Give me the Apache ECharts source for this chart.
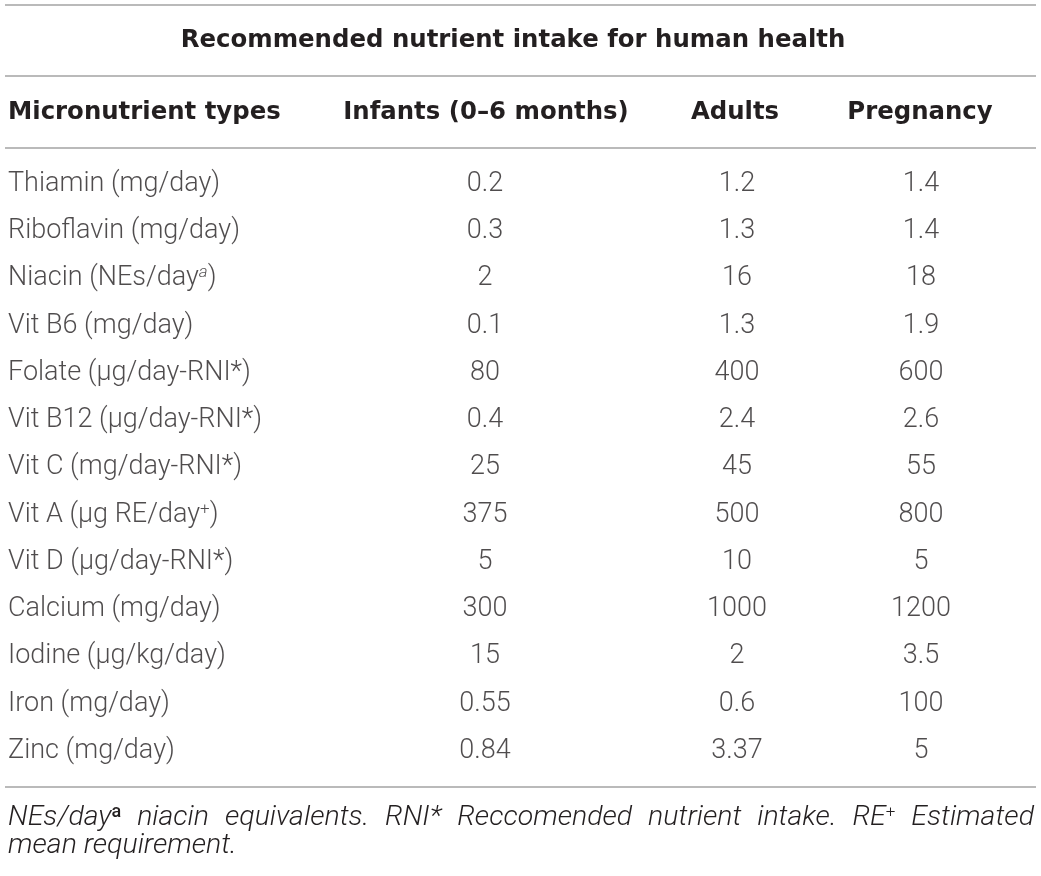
<!DOCTYPE html>
<html>
<head>
<meta charset="utf-8">
<title>Recommended nutrient intake for human health</title>
<script src="https://cdn.jsdelivr.net/npm/echarts@6/dist/echarts.min.js"></script>
<style>
  html, body { margin: 0; padding: 0; background: #ffffff; }
  #chart { width: 1041px; height: 876px; }
</style>
</head>
<body>
<div id="chart"></div>
<script>
// -- Table data --
const title = 'Recommended nutrient intake for human health';
const headers = ['Micronutrient types', 'Infants (0\u20136 months)', 'Adults', 'Pregnancy'];
const nutrients = [
  'Thiamin (mg/day)',
  'Riboflavin (mg/day)',
  'Niacin (NEs/day{supI|a})',
  'Vit B6 (mg/day)',
  'Folate (\u03bcg/day-RNI*)',
  'Vit B12 (\u03bcg/day-RNI*)',
  'Vit C (mg/day-RNI*)',
  'Vit A (\u03bcg RE/day{sup|+})',
  'Vit D (\u03bcg/day-RNI*)',
  'Calcium (mg/day)',
  'Iodine (\u03bcg/kg/day)',
  'Iron (mg/day)',
  'Zinc (mg/day)'
];
const infants = ['0.2', '0.3', '2', '0.1', '80', '0.4', '25', '375', '5', '300', '15', '0.55', '0.84'];
const adults = ['1.2', '1.3', '16', '1.3', '400', '2.4', '45', '500', '10', '1000', '2', '0.6', '3.37'];
const pregnancy = ['1.4', '1.4', '18', '1.9', '600', '2.6', '55', '800', '5', '1200', '3.5', '100', '5'];
// footnote words; line 1 is justified across the page
const footLine1 = ['NEs/day{supA|a}', 'niacin', 'equivalents.', 'RNI*', 'Reccomended', 'nutrient', 'intake.', 'RE{sup|+}', 'Estimated'];
const footLine2 = 'mean requirement.';

// -- Layout (page pixels) --
const W = 1041, H = 876;
const colX = [8, 485, 737, 921];
const headX = [8, 486, 735, 920];
const TEXT = '#231f20';
const RULE = '#a3a3a3';
const FONT = 'Roboto, "Liberation Sans", sans-serif';
const BOLD_FONT = '"DejaVu Sans", "Liberation Sans", sans-serif';
const FOOT_FONT = 'Roboto, "Liberation Sans", sans-serif';
const BODY_SIZE = 27;
const FOOT_SIZE = 28.5;
const bodyStyle = { fontFamily: FONT, fontSize: BODY_SIZE, fontWeight: 300, color: TEXT };
const boldStyle = { fontFamily: BOLD_FONT, fontSize: 24.4, fontWeight: 700 };
const footStyle = { fontFamily: FOOT_FONT, fontSize: FOOT_SIZE, fontWeight: 300, fontStyle: 'italic', fill: TEXT };
const supRich = {
  sup: { fontFamily: FONT, fontSize: 17, fontWeight: 300, color: TEXT, padding: [0, 0, 11, 0] },
  supI: { fontFamily: FONT, fontSize: 17, fontWeight: 300, fontStyle: 'italic', color: TEXT, padding: [0, 0, 11, 0] },
  supA: { fontFamily: FONT, fontSize: 18, fontWeight: 500, color: TEXT, padding: [0, 0, 11, 0] }
};

const chart = echarts.init(document.getElementById('chart'), null, { renderer: 'canvas' });

function rule(y) {
  return { type: 'line', shape: { x1: 5, y1: y, x2: W - 5, y2: y }, style: { stroke: RULE, lineWidth: 1.5 }, silent: true };
}

function cellSeries(values, ci) {
  return {
    type: 'scatter',
    symbolSize: 0,
    silent: true,
    data: values.map((v, i) => [colX[ci], i]),
    label: {
      show: true,
      position: ci === 0 ? 'right' : 'inside',
      distance: 0,
      formatter: p => values[p.dataIndex],
      ...bodyStyle,
      rich: supRich
    }
  };
}

// -- Measure footnote words so line 1 can be justified --
const measureCtx = document.createElement('canvas').getContext('2d');
function wordWidth(word) {
  let w = 0;
  const parts = word.split(/(\{\w+\|[^}]*\})/).filter(Boolean);
  parts.forEach(part => {
    const m = part.match(/^\{(\w+)\|([^}]*)\}$/);
    if (m) {
      const s = supRich[m[1]];
      measureCtx.font = `${s.fontStyle || 'normal'} ${s.fontWeight} ${s.fontSize}px ${s.fontFamily}`;
      w += measureCtx.measureText(m[2]).width;
    } else {
      measureCtx.font = `italic 300 ${FOOT_SIZE}px ${FOOT_FONT}`;
      w += measureCtx.measureText(part).width;
    }
  });
  return w;
}

function footnoteGraphics() {
  const left = 8, right = 1034;
  const widths = footLine1.map(wordWidth);
  const total = widths.reduce((a, b) => a + b, 0);
  const gap = (right - left - total) / (footLine1.length - 1);
  let x = left;
  const els = footLine1.map((word, i) => {
    const el = {
      type: 'text', x: x, y: 818,
      style: { text: word, ...footStyle, align: 'left', verticalAlign: 'middle', rich: supRich }
    };
    x += widths[i] + gap;
    return el;
  });
  els.push({
    type: 'text', x: left, y: 846,
    style: { text: footLine2, ...footStyle, align: 'left', verticalAlign: 'middle' }
  });
  return els;
}

const rowH = 47.25;
const firstRow = 184;
const gridTop = firstRow - rowH / 2;
const gridBottom = H - (gridTop + rowH * nutrients.length);

chart.setOption({
  animation: false,
  backgroundColor: '#ffffff',
  grid: { left: 0, right: 0, top: gridTop, bottom: gridBottom },
  xAxis: { type: 'value', min: 0, max: W, show: false },
  yAxis: { type: 'category', data: nutrients, inverse: true, show: false },
  series: [
    cellSeries(nutrients, 0),
    cellSeries(infants, 1),
    cellSeries(adults, 2),
    cellSeries(pregnancy, 3)
  ],
  graphic: [
    rule(5), rule(76), rule(148), rule(787),
    { type: 'text', x: 513, y: 41, style: { text: title, ...boldStyle, fill: TEXT, align: 'center', verticalAlign: 'middle' } },
    ...headers.map((h, i) => ({
      type: 'text', x: headX[i], y: 113,
      style: { text: h, ...boldStyle, fill: TEXT, align: i === 0 ? 'left' : 'center', verticalAlign: 'middle' }
    })),
    ...footnoteGraphics()
  ]
});
</script>
</body>
</html>
